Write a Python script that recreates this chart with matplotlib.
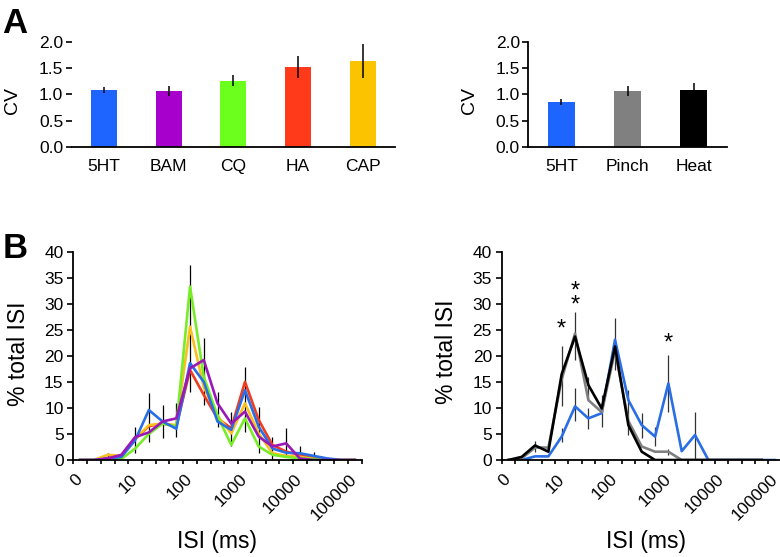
import matplotlib.pyplot as plt
import numpy as np

plt.rcParams['font.family'] = ['Liberation Sans', 'DejaVu Sans']

# ---- panel A: coefficient of variation ----
groups_left = ['5HT', 'BAM', 'CQ', 'HA', 'CAP']
cv_left = [1.08, 1.06, 1.26, 1.52, 1.64]
cv_left_err = [0.06, 0.09, 0.10, 0.20, 0.32]
colors_left = ['#1e64ff', '#a800cc', '#6cff1e', '#ff3a1a', '#fcc400']

groups_right = ['5HT', 'Pinch', 'Heat']
cv_right = [0.85, 1.06, 1.09]
cv_right_err = [0.06, 0.095, 0.13]
colors_right = ['#1e64ff', '#808080', '#000000']

# ---- panel B: ISI histograms (21 log bins) ----
isi_labels = ['0', '10', '100', '1000', '10000', '100000']
isi_label_bins = [0, 4, 8, 12, 16, 20]

isi_5ht = [0, 0, 0.3, 0.6, 3.8, 9.6, 7.4, 6.0, 18.6, 15.0, 7.4, 5.8, 13.4, 6.4, 2.2, 1.4, 1.3, 0.8, 0.3, 0, 0]
isi_ha = [0, 0, 0.4, 0.8, 4.0, 6.5, 7.0, 6.5, 17.3, 12.5, 8.0, 6.1, 15.0, 7.7, 2.9, 1.6, 1.0, 0.6, 0.2, 0, 0]
isi_cap = [0, 0, 1.0, 0.8, 4.0, 6.7, 7.0, 6.7, 25.6, 14.0, 8.5, 5.1, 10.9, 5.1, 1.3, 0.8, 0.6, 0.2, 0, 0, 0]
isi_cq = [0, 0, 0.1, 0.2, 2.2, 5.0, 7.0, 6.4, 33.3, 16.0, 8.5, 2.9, 8.0, 2.6, 1.0, 0.6, 0.3, 0.2, 0, 0, 0]
isi_bam = [0, 0, 0.3, 1.0, 4.4, 5.3, 7.4, 8.0, 17.6, 19.2, 10.9, 7.0, 9.3, 4.5, 2.6, 3.2, 0.3, 0, 0, 0, 0]

err_left_bins = [2, 4, 5, 6, 7, 8, 9, 10, 11, 12, 13, 14, 15, 16, 17]
err_left_lo = [0.3, 1.4, 3.5, 4.2, 4.5, 13.0, 10.6, 6.4, 2.6, 5.4, 1.3, 0, 0.5, 0.3, 0.2]
err_left_hi = [1.3, 6.4, 12.8, 10.6, 10.9, 37.4, 23.4, 13.1, 9.3, 17.9, 10.2, 4.5, 6.1, 2.6, 1.6]

isi_heat = [0, 0.6, 2.8, 1.6, 16.5, 23.7, 14.4, 9.9, 21.8, 6.7, 1.6, 0, 0, 0, 0, 0, 0, 0, 0, 0]
isi_pinch = [0, 0.3, 2.4, 2.4, 15.5, 24.3, 11.5, 9.2, 21.0, 7.5, 2.6, 1.6, 1.6, 0, 0, 0, 0, 0, 0, 0]
isi_5ht_r = [0, 0, 0.7, 0.7, 4.5, 10.3, 8.0, 9.0, 23.1, 11.5, 6.7, 4.5, 14.7, 1.7, 4.8, 0, 0, 0, 0, 0, 0]

err_right_bins = [2, 4, 4, 5, 5, 6, 6, 7, 8, 9, 10, 11, 12, 12, 14]
err_right_lo = [1.6, 10.3, 3.5, 19.2, 7.4, 11.5, 6.0, 6.4, 17.3, 4.8, 4.2, 2.6, 9.3, 1.0, 0]
err_right_hi = [3.7, 21.8, 6.1, 28.5, 13.8, 16.0, 9.9, 12.5, 27.2, 13.5, 9.0, 6.4, 20.2, 2.2, 9.3]

# significance marks (bin, level, text)
star_bins = [4, 5, 12]
star_levels = [23.0, 27.6, 20.2]
star_texts = ['*', '*\n*', '*']

TICK_FS = 12.5
LABEL_FS = 16.5

fig = plt.figure(figsize=(7.8, 5.57), dpi=100)

ax_a1 = fig.add_axes([0.0919, 0.7361, 0.4145, 0.189])
ax_a2 = fig.add_axes([0.6773, 0.7361, 0.2544, 0.189])
ax_b1 = fig.add_axes([0.0940, 0.1741, 0.3697, 0.374])
ax_b2 = fig.add_axes([0.6432, 0.1741, 0.3590, 0.374])


def style_bar_axes(ax, groups, vals, errs, colors):
    x = np.arange(len(groups))
    ax.bar(x, vals, width=0.4, color=colors)
    ax.errorbar(x, vals, yerr=errs, fmt='none', ecolor='black', elinewidth=1.1, capsize=0)
    ax.set_xlim(-0.5, len(groups) - 0.5)
    ax.set_ylim(0, 2.0)
    ax.set_yticks([0, 0.5, 1.0, 1.5, 2.0])
    ax.set_yticklabels(['0.0', '0.5', '1.0', '1.5', '2.0'])
    ax.set_xticks(x)
    ax.set_xticklabels(groups)
    ax.tick_params(axis='x', length=0, pad=9, labelsize=TICK_FS)
    ax.tick_params(axis='y', length=4, width=1.2, pad=2, labelsize=TICK_FS)
    for s in ['top', 'right']:
        ax.spines[s].set_visible(False)
    for s in ['left', 'bottom']:
        ax.spines[s].set_linewidth(1.3)
    ax.set_ylabel('CV', fontsize=14)


style_bar_axes(ax_a1, groups_left, cv_left, cv_left_err, colors_left)
style_bar_axes(ax_a2, groups_right, cv_right, cv_right_err, colors_right)
ax_a1.spines['left'].set_visible(False)
ax_a1.yaxis.set_label_coords(-0.157, 0.446)
ax_a2.yaxis.set_label_coords(-0.254, 0.446)


def style_isi_axes(ax):
    ax.set_xlim(-0.5, 20.5)
    ax.set_ylim(0, 40)
    ax.set_yticks(np.arange(0, 41, 5))
    ax.set_xticks(np.arange(-0.5, 21, 1))
    ax.set_xticklabels([])
    ax.set_xticks(isi_label_bins, minor=True)
    ax.set_xticklabels(isi_labels, minor=True, rotation=45, ha='right',
                       va='center', rotation_mode='anchor')
    ax.tick_params(axis='x', which='major', length=3, width=1.2, direction='out')
    ax.tick_params(axis='x', which='minor', length=0, pad=12, labelsize=TICK_FS)
    ax.tick_params(axis='y', length=4, width=1.2, pad=3, labelsize=TICK_FS)
    for s in ['top', 'right']:
        ax.spines[s].set_visible(False)
    for s in ['left', 'bottom']:
        ax.spines[s].set_linewidth(1.3)
    ax.set_ylabel('% total ISI', fontsize=LABEL_FS)
    ax.set_xlabel('ISI (ms)', fontsize=LABEL_FS, va='top')


bins = np.arange(21)
style_isi_axes(ax_b1)
ax_b1.vlines(err_left_bins, err_left_lo, err_left_hi, color='black', lw=0.9)
lw = 1.9
ax_b1.plot(bins, isi_ha, color='#f03c1e', lw=lw)
ax_b1.plot(bins, isi_cap, color='#f8c020', lw=lw)
ax_b1.plot(bins, isi_cq, color='#78ec28', lw=lw)
ax_b1.plot(bins, isi_5ht, color='#2a6ee6', lw=lw)
ax_b1.plot(bins, isi_bam, color='#9a18b8', lw=lw)
ax_b1.yaxis.set_label_coords(-0.150, 0.509)
ax_b1.xaxis.set_label_coords(0.497, -0.336)

style_isi_axes(ax_b2)
ax_b2.vlines(err_right_bins, err_right_lo, err_right_hi, color='#333333', lw=0.9)
ax_b2.plot(bins, isi_5ht_r, color='#2a6ee6', lw=lw)
ax_b2.plot(bins[:len(isi_pinch)], isi_pinch, color='#808080', lw=lw)
ax_b2.plot(bins[:len(isi_heat)], isi_heat, color='black', lw=lw)
for b, lvl, t in zip(star_bins, star_levels, star_texts):
    ax_b2.text(b, lvl, t, ha='center', va='bottom', fontsize=17, linespacing=0.5)
ax_b2.yaxis.set_label_coords(-0.156, 0.518)
ax_b2.xaxis.set_label_coords(0.515, -0.336)

fig.text(0.003, 0.987, 'A', fontsize=25, fontweight='bold', va='top', ha='left')
fig.text(0.003, 0.583, 'B', fontsize=25, fontweight='bold', va='top', ha='left')

fig.savefig('out.png', dpi=100)
